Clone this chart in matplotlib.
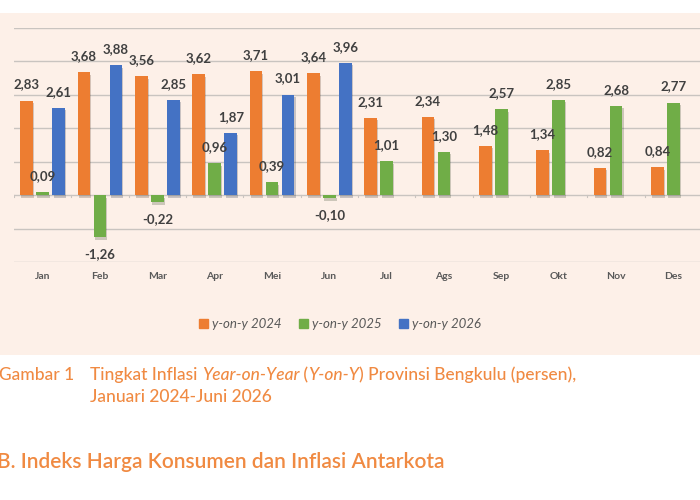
import numpy as np
import matplotlib.pyplot as plt
from matplotlib.patches import Patch, Rectangle
import matplotlib.patheffects as pe

plt.rcParams['font.family'] = ['Lato', 'DejaVu Sans']

# Inflation y-on-y (persen), Bengkulu
months = ['Jan', 'Feb', 'Mar', 'Apr', 'Mei', 'Jun',
          'Jul', 'Ags', 'Sep', 'Okt', 'Nov', 'Des']
yoy_2024 = [2.83, 3.68, 3.56, 3.62, 3.71, 3.64, 2.31, 2.34, 1.48, 1.34, 0.82, 0.84]
yoy_2025 = [0.09, -1.26, -0.22, 0.96, 0.39, -0.10, 1.01, 1.30, 2.57, 2.85, 2.68, 2.77]
yoy_2026 = [2.61, 3.88, 2.85, 1.87, 3.01, 3.96]
series_names = ['y-on-y 2024', 'y-on-y 2025', 'y-on-y 2026']

ORANGE = '#ED7D31'
GREEN = '#70AD47'
BLUE = '#4472C4'
PANEL = '#FDF0E8'
TXT = '#404040'
CAPTION = '#F08A42'

fig = plt.figure(figsize=(7, 5), dpi=100)
fig.patch.set_facecolor('white')

# peach panel behind chart
fig.patches.append(Rectangle((0, 0.29), 1, 0.684, transform=fig.transFigure,
                             facecolor=PANEL, edgecolor='none', zorder=-5))

ax = fig.add_axes([0.02, 0.476, 0.983, 0.468])
ax.set_facecolor('none')
ax.set_zorder(2)

x = np.arange(len(months))
w = 0.22
off = 0.28
shadow = [pe.SimplePatchShadow(offset=(0.8, -1.8), alpha=0.22), pe.Normal()]

def draw(xs, vals, color):
    bars = ax.bar(xs, vals, width=w, color=color, zorder=3)
    for b in bars:
        b.set_path_effects(shadow)
    for xi, v in zip(xs, vals):
        dy = 11.5 if v >= 0 else -12
        ax.annotate(f'{v:.2f}'.replace('.', ','), (xi, v), xytext=(0, dy),
                    textcoords='offset points', ha='center', va='center',
                    fontsize=9.5, fontweight='bold', color=TXT, zorder=4)

draw(x - off, yoy_2024, ORANGE)
draw(x, yoy_2025, GREEN)
draw(x[:len(yoy_2026)] + off, yoy_2026, BLUE)

ax.set_xlim(-0.5, 11.5)
ax.set_ylim(-2, 5)
ax.set_yticks(np.arange(-2, 6, 1))
ax.yaxis.grid(True, color='#C9C4C0', linewidth=1, zorder=0)
ax.tick_params(axis='y', left=False, labelleft=False)
ax.set_xticks(x)
ax.set_xticklabels(months, fontsize=7.5, fontweight='bold', color='#595959')
ax.tick_params(axis='x', length=0, pad=7)
for s in ax.spines.values():
    s.set_visible(False)
# small category ticks on the zero line
for xb in np.arange(-0.5, 12, 1):
    ax.plot([xb, xb], [0, -0.06], color='#C9C4C0', lw=0.8, zorder=1)

handles = [Patch(color=c, label=n) for c, n in zip([ORANGE, GREEN, BLUE], series_names)]
fig.legend(handles=handles, loc='center', bbox_to_anchor=(0.486, 0.352), ncol=3,
           frameon=False, handlelength=0.7, handleheight=0.7, handletextpad=0.3,
           columnspacing=1.3, prop={'style': 'italic', 'size': 9.5},
           labelcolor='#595959')

# caption, with italic parts
renderer = fig.canvas.get_renderer()
fig.text(-0.002, 0.25, 'Gambar 1', fontsize=12.5, fontweight='medium', color=CAPTION, va='center')
pieces = [('Tingkat Inflasi ', 'normal'), ('Year-on-Year', 'italic'), (' (', 'normal'),
          ('Y-on-Y', 'italic'), (') Provinsi Bengkulu (persen),', 'normal')]
xpos = 90 / 700
for s, st in pieces:
    t = fig.text(xpos, 0.25, s, fontsize=12.5, fontweight='medium', color=CAPTION,
                 style=st, va='center')
    bb = t.get_window_extent(renderer)
    xpos += bb.width / 700
fig.text(90 / 700, 0.206, 'Januari 2024-Juni 2026', fontsize=12.5, fontweight='medium',
         color=CAPTION, va='center')

fig.text(-0.004, 0.076, 'B. Indeks Harga Konsumen dan Inflasi Antarkota', fontsize=15,
         fontweight='semibold', color=CAPTION, va='center')

fig.savefig('out.png', dpi=100)
